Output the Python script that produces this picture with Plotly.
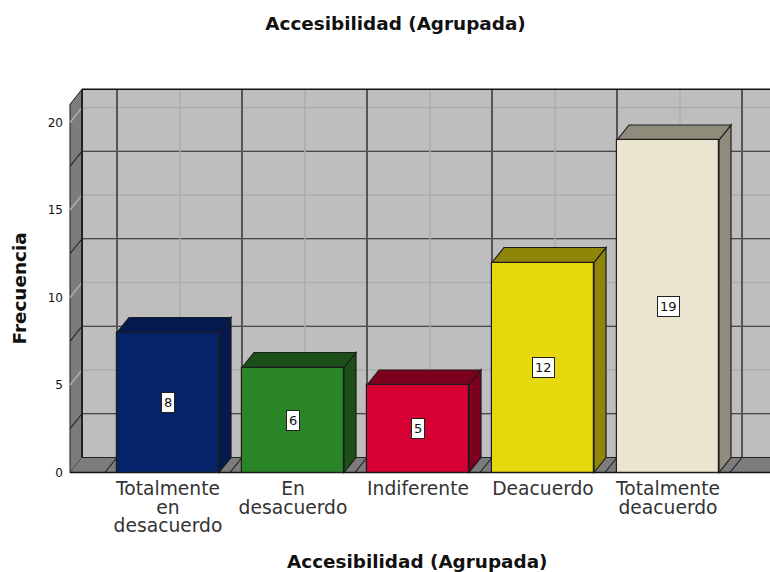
import plotly.graph_objects as go

categories = ["Totalmente<br>en<br>desacuerdo", "En<br>desacuerdo", "Indiferente", "Deacuerdo", "Totalmente<br>deacuerdo"]
frequencies = [8, 6, 5, 12, 19]
front_colors = ["#06246b", "#2a8527", "#d60032", "#e5d90d", "#ebe5d0"]
shade_colors = ["#041a4e", "#1a4f18", "#7d001f", "#8f8508", "#908c7c"]
y_ticks = [0, 5, 10, 15, 20]
minor_levels = [5, 10, 15, 20]
major_levels = [2.5, 7.5, 12.5, 17.5]

BAR_W = 102 / 125
DX = 12 / 125
DY = 15 / 17.5
X0 = -98 / 125
X1 = 602 / 125
Y_TOP = 386.5 / 17.5
WALL_TOP = 21.9
EDGE = "#1c1c1c"
xs = list(range(len(categories)))

PLOT_L, PLOT_R, PLOT_T, PLOT_B = 68, 770, 86, 476


def paper_x(px):
    return (px - PLOT_L) / (PLOT_R - PLOT_L)


def paper_y(px):
    return (PLOT_B - px) / (PLOT_B - PLOT_T)


def tick_text(label, size=18.7):
    # line height follows tickfont, glyph size follows the span: gives the tight leading
    return "<br>".join(f"<span style='font-size:{size}px'>{part}</span>" for part in label.split("<br>"))


def poly(points, fill, line=EDGE, width=1.2):
    path = "M " + " L ".join(f"{x:.4f},{y:.4f}" for x, y in points) + " Z"
    return dict(type="path", path=path, xref="x", yref="y", layer="below",
                fillcolor=fill, line=dict(color=line, width=width))


def seg(x0, y0, x1, y1, color, width):
    return dict(type="line", x0=x0, y0=y0, x1=x1, y1=y1, xref="x", yref="y",
                layer="below", line=dict(color=color, width=width))


shapes = [
    # back wall, side wall, floor
    poly([(X0 + DX, DY), (X0 + DX, WALL_TOP), (X1 + 1, WALL_TOP), (X1 + 1, DY)], "#bebebe", "#bebebe", 0),
    poly([(X0, 0), (X0, WALL_TOP - DY), (X0 + DX, WALL_TOP), (X0 + DX, DY)], "#7c7c7c", EDGE, 1),
    poly([(X0, 0), (X0 + DX, DY), (X1 + 0.1, DY), (X1 + 0.1 - DX, 0)], "#7c7c7c", "#7c7c7c", 0),
]

# light grid at tick levels, dark grid halfway between them
for lvl in minor_levels:
    shapes.append(seg(X0 + DX, lvl + DY, X1 + 1, lvl + DY, "#adadad", 1.5))
    shapes.append(seg(X0, lvl, X0 + DX, lvl + DY, "#adadad", 1.5))
for lvl in major_levels:
    shapes.append(seg(X0 + DX, lvl + DY, X1 + 1, lvl + DY, "#222222", 1.2))
    shapes.append(seg(X0, lvl, X0 + DX, lvl + DY, "#222222", 1.2))
for i in xs:
    shapes.append(seg(i + DX, DY, i + DX, WALL_TOP, "#adadad", 1.5))
for i in xs + [len(xs)]:
    left = i - BAR_W / 2
    shapes.append(seg(left, DY, left, WALL_TOP, "#555555", 2))
    shapes.append(seg(left - DX, 0, left, DY, "#222222", 1.2))

shapes.append(seg(X0 + DX, DY, X0 + DX, WALL_TOP, "#222222", 2))
shapes.append(seg(X0 + DX, WALL_TOP, X1 + 1, WALL_TOP, "#111111", 1.5))
shapes.append(seg(X0 + DX, DY, X1 + 1, DY, "#222222", 1))
shapes.append(seg(X0, 0, X1 + 0.1 - DX, 0, "#111111", 1.5))
shapes.append(seg(X1 + 0.1 - DX, 0, X1 + 0.1, DY, "#222222", 1.2))

# side and top faces of each bar
for i, v, shade in zip(xs, frequencies, shade_colors):
    right = i + BAR_W / 2
    left = i - BAR_W / 2
    shapes.append(poly([(right, 0), (right + DX, DY), (right + DX, v + DY), (right, v)], shade))
    shapes.append(poly([(left, v), (left + DX, v + DY), (right + DX, v + DY), (right, v)], shade))

fig = go.Figure(
    go.Bar(
        x=xs,
        y=frequencies,
        width=BAR_W,
        marker=dict(color=front_colors, line=dict(color=EDGE, width=1.2)),
        hoverinfo="x+y",
    )
)

annotations = [
    dict(x=i, y=v / 2, xref="x", yref="y", text=str(v), showarrow=False,
         bgcolor="white", bordercolor="#222222", borderwidth=1, borderpad=2,
         font=dict(size=13, color="#111111"))
    for i, v in zip(xs, frequencies)
]
annotations.append(dict(x=paper_x(417.5), y=paper_y(561), xref="paper", yref="paper",
                        text="<b>Accesibilidad (Agrupada)</b>", showarrow=False,
                        font=dict(size=18.4, color="#111111"), xanchor="center", yanchor="middle"))
annotations.append(dict(x=paper_x(18.5), y=paper_y(289), xref="paper", yref="paper", textangle=-90,
                        text="<b>Frecuencia</b>", showarrow=False,
                        font=dict(size=18.4, color="#111111"), xanchor="center", yanchor="middle"))

fig.update_layout(
    width=770,
    height=572,
    margin=dict(l=PLOT_L, r=770 - PLOT_R, t=PLOT_T, b=572 - PLOT_B),
    paper_bgcolor="white",
    plot_bgcolor="white",
    font=dict(family="DejaVu Sans, sans-serif", color="#333333"),
    showlegend=False,
    bargap=0,
    shapes=shapes,
    annotations=annotations,
    title=dict(text="<b>Accesibilidad (Agrupada)</b>", x=395.5 / 770, xanchor="center",
               y=1 - 24 / 572, yanchor="middle", font=dict(size=18.4, color="#111111")),
)
fig.update_xaxes(
    range=[X0 - 0.016, X1],
    tickvals=xs,
    ticktext=[tick_text(c) for c in categories],
    tickfont=dict(size=14.2, color="#333333"),
    showgrid=False,
    zeroline=False,
    showline=False,
    ticks="",
    ticklabelstandoff=4,
    automargin=False,
)
fig.update_yaxes(
    range=[-0.2, Y_TOP],
    tickvals=y_ticks,
    tickfont=dict(size=12, color="#111111"),
    showgrid=False,
    zeroline=False,
    showline=False,
    ticks="",
    ticklabelstandoff=4,
    automargin=False,
)

fig.write_html("out.html", config=dict(displayModeBar=False), post_script="document.body.style.margin='0';")
